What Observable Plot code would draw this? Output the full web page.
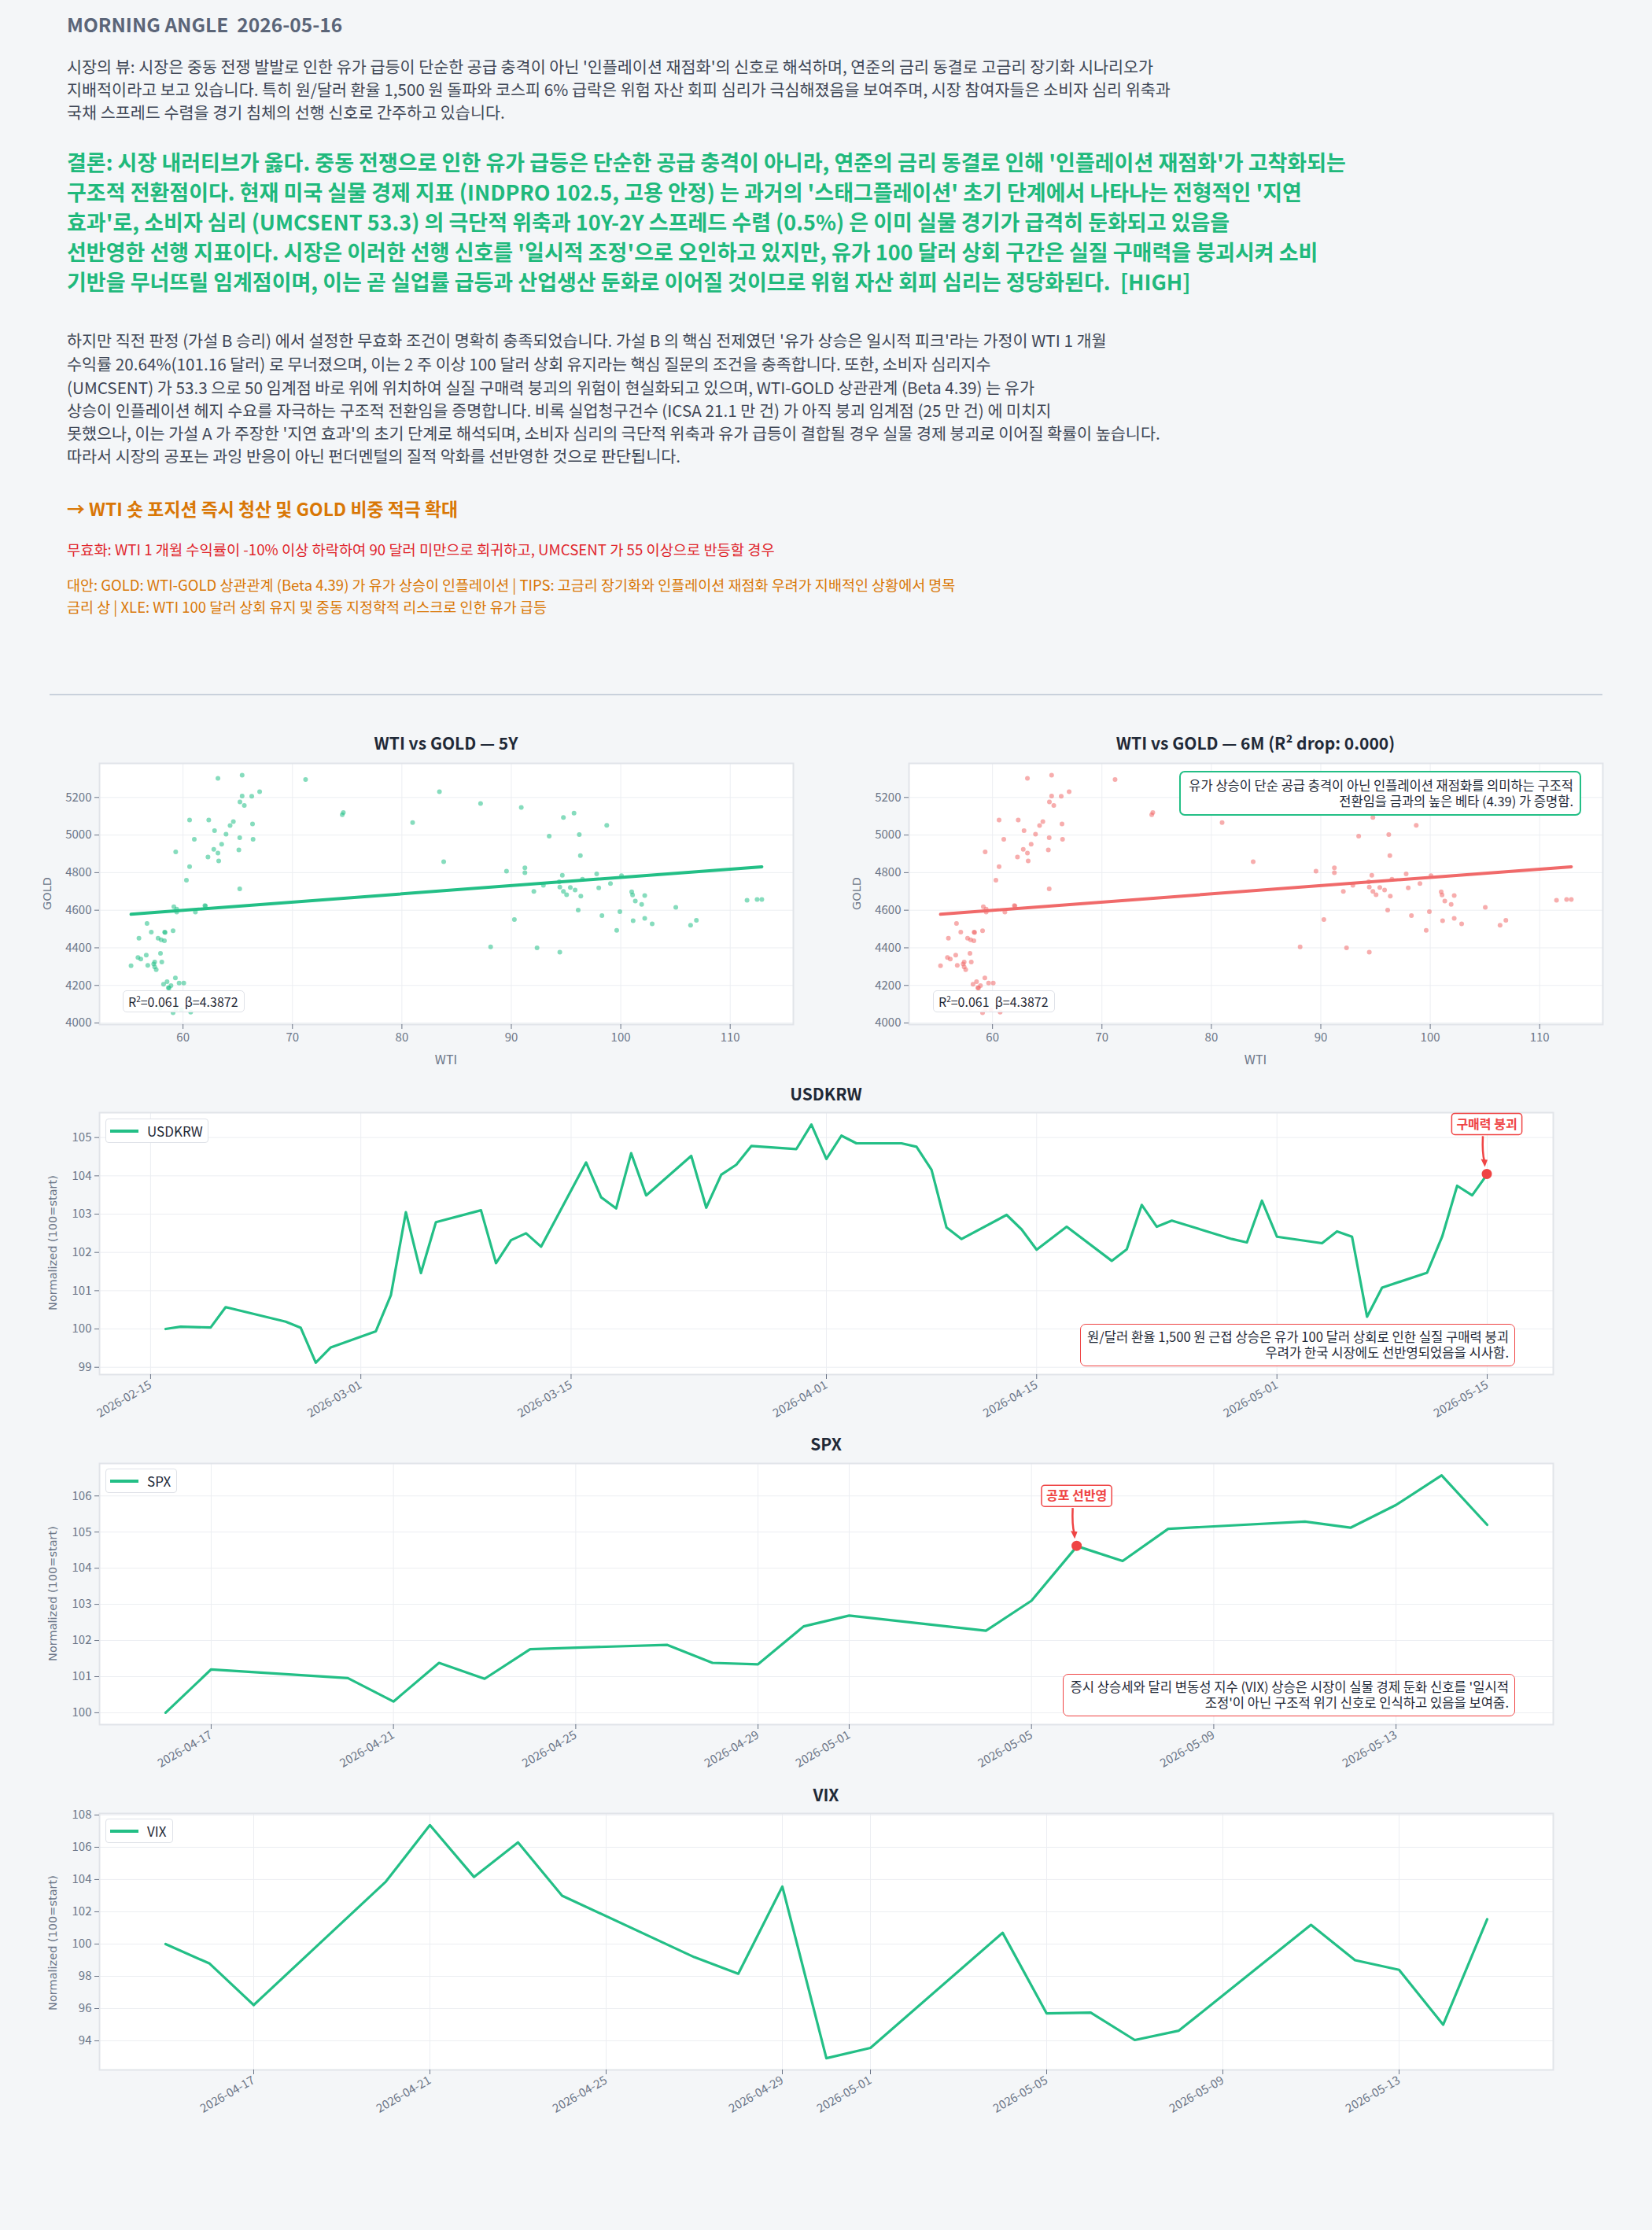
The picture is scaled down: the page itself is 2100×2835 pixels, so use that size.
<!DOCTYPE html>
<html><head><meta charset="utf-8">
<script src="https://cdn.jsdelivr.net/npm/d3@7"></script>
<script src="https://cdn.jsdelivr.net/npm/@observablehq/plot@0.6"></script>
<style>
html,body{margin:0;padding:0;background:#f4f6f8;}
#page{position:relative;width:2100px;height:2835px;overflow:hidden;font-family:"Noto Sans CJK KR","Noto Sans",sans-serif;}
.abs{position:absolute;white-space:pre;}
.plot{position:absolute;}
.plot svg{overflow:visible;}
.box{position:absolute;white-space:pre;background:#fff;border-radius:6px;color:#1f2937;}
</style></head>
<body><div id="page"></div>
<script>
// ================= DATA =================
const headerTitle = "MORNING ANGLE  2026-05-16";
const viewLines = [
  "시장의 뷰: 시장은 중동 전쟁 발발로 인한 유가 급등이 단순한 공급 충격이 아닌 '인플레이션 재점화'의 신호로 해석하며, 연준의 금리 동결로 고금리 장기화 시나리오가",
  "지배적이라고 보고 있습니다. 특히 원/달러 환율 1,500 원 돌파와 코스피 6% 급락은 위험 자산 회피 심리가 극심해졌음을 보여주며, 시장 참여자들은 소비자 심리 위축과",
  "국채 스프레드 수렴을 경기 침체의 선행 신호로 간주하고 있습니다."
];
const conclusionLines = [
  "결론: 시장 내러티브가 옳다. 중동 전쟁으로 인한 유가 급등은 단순한 공급 충격이 아니라, 연준의 금리 동결로 인해 '인플레이션 재점화'가 고착화되는",
  "구조적 전환점이다. 현재 미국 실물 경제 지표 (INDPRO 102.5, 고용 안정) 는 과거의 '스태그플레이션' 초기 단계에서 나타나는 전형적인 '지연",
  "효과'로, 소비자 심리 (UMCSENT 53.3) 의 극단적 위축과 10Y-2Y 스프레드 수렴 (0.5%) 은 이미 실물 경기가 급격히 둔화되고 있음을",
  "선반영한 선행 지표이다. 시장은 이러한 선행 신호를 '일시적 조정'으로 오인하고 있지만, 유가 100 달러 상회 구간은 실질 구매력을 붕괴시켜 소비",
  "기반을 무너뜨릴 임계점이며, 이는 곧 실업률 급등과 산업생산 둔화로 이어질 것이므로 위험 자산 회피 심리는 정당화된다.  [HIGH]"
];
const analysisLines = [
  "하지만 직전 판정 (가설 B 승리) 에서 설정한 무효화 조건이 명확히 충족되었습니다. 가설 B 의 핵심 전제였던 '유가 상승은 일시적 피크'라는 가정이 WTI 1 개월",
  "수익률 20.64%(101.16 달러) 로 무너졌으며, 이는 2 주 이상 100 달러 상회 유지라는 핵심 질문의 조건을 충족합니다. 또한, 소비자 심리지수",
  "(UMCSENT) 가 53.3 으로 50 임계점 바로 위에 위치하여 실질 구매력 붕괴의 위험이 현실화되고 있으며, WTI-GOLD 상관관계 (Beta 4.39) 는 유가",
  "상승이 인플레이션 헤지 수요를 자극하는 구조적 전환임을 증명합니다. 비록 실업청구건수 (ICSA 21.1 만 건) 가 아직 붕괴 임계점 (25 만 건) 에 미치지",
  "못했으나, 이는 가설 A 가 주장한 '지연 효과'의 초기 단계로 해석되며, 소비자 심리의 극단적 위축과 유가 급등이 결합될 경우 실물 경제 붕괴로 이어질 확률이 높습니다.",
  "따라서 시장의 공포는 과잉 반응이 아닌 펀더멘털의 질적 악화를 선반영한 것으로 판단됩니다."
];
const actionLine = "→ WTI 숏 포지션 즉시 청산 및 GOLD 비중 적극 확대";
const invalidationLine = "무효화: WTI 1 개월 수익률이 -10% 이상 하락하여 90 달러 미만으로 회귀하고, UMCSENT 가 55 이상으로 반등할 경우";
const alternativeLines = [
  "대안: GOLD: WTI-GOLD 상관관계 (Beta 4.39) 가 유가 상승이 인플레이션 | TIPS: 고금리 장기화와 인플레이션 재점화 우려가 지배적인 상황에서 명목",
  "금리 상 | XLE: WTI 100 달러 상회 유지 및 중동 지정학적 리스크로 인한 유가 급등"
];

// scatter: WTI vs GOLD
const wtiValues = [65.40,63.19,71.20,67.00,83.43,65.40,66.28,65.20,87.19,65.60,90.91,74.55,74.65,95.73,60.60,62.35,94.76,80.98,64.60,64.30,66.35,98.72,62.88,63.93,96.21,93.46,65.18,61.03,66.40,63.53,62.81,63.19,65.10,59.33,96.31,62.28,63.26,83.82,60.60,91.24,89.56,91.24,97.80,94.66,100.07,60.31,96.50,94.38,92.93,99.06,94.43,95.39,97.99,95.83,65.18,92.06,94.76,101.00,95.05,101.08,102.19,96.35,101.33,111.54,112.46,112.89,101.91,62.00,62.05,59.16,59.42,105.03,96.11,59.42,61.13,99.92,98.28,90.28,102.19,101.13,106.91,102.87,106.38,56.71,99.63,59.09,57.10,58.32,58.36,55.97,57.72,58.00,58.30,88.11,92.35,94.43,57.94,56.64,55.88,56.14,57.41,58.06,57.32,55.25,56.78,57.41,57.55,59.30,58.54,58.22,59.64,60.07,58.90,58.66,58.72,59.09,60.70,57.90,59.35,59.85];
const goldValues = [5318,5302,5295,5231,5231,5207,5206,5176,5168,5157,5147,5108,5120,5116,5080,5080,5093,5066,5072,5051,5059,5052,5023,5005,5002,4994,4986,4977,4977,4951,4924,4904,4921,4910,4890,4883,4862,4858,4832,4826,4808,4800,4793,4786,4784,4760,4765,4751,4733,4742,4723,4721,4719,4707,4714,4700,4700,4698,4682,4681,4678,4675,4649,4653,4657,4657,4631,4625,4622,4618,4606,4615,4601,4590,4590,4592,4571,4550,4557,4544,4546,4527,4520,4530,4493,4491,4484,4484,4481,4451,4451,4443,4437,4405,4400,4377,4371,4361,4349,4340,4325,4325,4314,4305,4307,4298,4284,4240,4220,4206,4213,4213,4199,4188,4186,4055,4058,4080,4075,4070];
const fitBeta = 4.3872;
const fitIntercept = 4336;
const fitR2 = 0.061;
const fitR2Drop = 0.000;
const scatterXTicks = [60,70,80,90,100,110];
const scatterYTicks = [4000,4200,4400,4600,4800,5000,5200];

// USDKRW normalized
const usdkrwDates = ["2026-02-16","2026-02-17","2026-02-19","2026-02-20","2026-02-24","2026-02-25","2026-02-26","2026-02-27","2026-03-02","2026-03-03","2026-03-04","2026-03-05","2026-03-06","2026-03-09","2026-03-10","2026-03-11","2026-03-12","2026-03-13","2026-03-16","2026-03-17","2026-03-18","2026-03-19","2026-03-20","2026-03-23","2026-03-24","2026-03-25","2026-03-26","2026-03-27","2026-03-30","2026-03-31","2026-04-01","2026-04-02","2026-04-03","2026-04-06","2026-04-07","2026-04-08","2026-04-09","2026-04-10","2026-04-13","2026-04-14","2026-04-15","2026-04-17","2026-04-20","2026-04-21","2026-04-22","2026-04-23","2026-04-24","2026-04-28","2026-04-29","2026-04-30","2026-05-01","2026-05-04","2026-05-05","2026-05-06","2026-05-07","2026-05-08","2026-05-11","2026-05-12","2026-05-13","2026-05-14","2026-05-15"];
const usdkrwValues = [100.00,100.06,100.04,100.57,100.19,100.03,99.12,99.52,99.94,100.88,103.05,101.46,102.79,103.10,101.72,102.32,102.50,102.15,104.35,103.44,103.15,104.59,103.49,104.52,103.17,104.03,104.29,104.78,104.70,105.34,104.44,105.05,104.85,104.85,104.76,104.16,102.65,102.35,102.98,102.60,102.07,102.67,101.78,102.08,103.24,102.67,102.83,102.35,102.26,103.35,102.41,102.24,102.55,102.41,100.32,101.08,101.47,102.41,103.74,103.49,104.04];
const usdkrwXTicks = ["2026-02-15","2026-03-01","2026-03-15","2026-04-01","2026-04-15","2026-05-01","2026-05-15"];
const usdkrwYTicks = [99,100,101,102,103,104,105];
const usdkrwMarkDate = "2026-05-15";
const usdkrwMarkLabel = "구매력 붕괴";
const usdkrwNote = ["원/달러 환율 1,500 원 근접 상승은 유가 100 달러 상회로 인한 실질 구매력 붕괴", "우려가 한국 시장에도 선반영되었음을 시사함."];

// SPX normalized
const spxDates = ["2026-04-16","2026-04-17","2026-04-20","2026-04-21","2026-04-22","2026-04-23","2026-04-24","2026-04-27","2026-04-28","2026-04-29","2026-04-30","2026-05-01","2026-05-04","2026-05-05","2026-05-06","2026-05-07","2026-05-08","2026-05-11","2026-05-12","2026-05-13","2026-05-14","2026-05-15"];
const spxValues = [100.00,101.20,100.96,100.31,101.38,100.94,101.76,101.88,101.38,101.34,102.39,102.69,102.27,103.10,104.61,104.20,105.09,105.29,105.12,105.75,106.57,105.20];
const spxXTicks = ["2026-04-17","2026-04-21","2026-04-25","2026-04-29","2026-05-01","2026-05-05","2026-05-09","2026-05-13"];
const spxYTicks = [100,101,102,103,104,105,106];
const spxMarkDate = "2026-05-06";
const spxMarkLabel = "공포 선반영";
const spxNote = ["증시 상승세와 달리 변동성 지수 (VIX) 상승은 시장이 실물 경제 둔화 신호를 '일시적", "조정'이 아닌 구조적 위기 신호로 인식하고 있음을 보여줌."];

// VIX normalized
const vixDates = ["2026-04-15","2026-04-16","2026-04-17","2026-04-20","2026-04-21","2026-04-22","2026-04-23","2026-04-24","2026-04-27","2026-04-28","2026-04-29","2026-04-30","2026-05-01","2026-05-04","2026-05-05","2026-05-06","2026-05-07","2026-05-08","2026-05-11","2026-05-12","2026-05-13","2026-05-14","2026-05-15"];
const vixValues = [100.00,98.79,96.22,103.87,107.37,104.16,106.30,103.00,99.19,98.16,103.56,92.92,93.56,100.70,95.70,95.75,94.05,94.63,101.19,99.00,98.40,95.00,101.54];
const vixXTicks = ["2026-04-17","2026-04-21","2026-04-25","2026-04-29","2026-05-01","2026-05-05","2026-05-09","2026-05-13"];
const vixYTicks = [94,96,98,100,102,104,106,108];

const scatterNote = ["유가 상승이 단순 공급 충격이 아닌 인플레이션 재점화를 의미하는 구조적", "전환임을 금과의 높은 베타 (4.39) 가 증명함."];

// ================= STYLE =================
const FONT = '"Noto Sans CJK KR","Noto Sans",sans-serif';
const GREEN = "#23bf86";
const TEXTGREEN = "#1fb97c";
const RED = "#ef4444";
const ORANGE = "#d97706";
const SLATE = "#6b7587";
const DARK = "#1f2937";
const GRID = "#eceef2";
const FRAME = "#e1e4e9";

const page = document.getElementById("page");
const parse = d3.utcParse("%Y-%m-%d");
const fmt = d3.utcFormat("%Y-%m-%d");

function text(str, x, yc, fs, opts = {}) {
  const d = document.createElement("div");
  d.className = "abs";
  d.textContent = str;
  d.style.fontSize = fs + "px";
  d.style.lineHeight = fs + "px";
  d.style.top = (yc - 0.57 * fs) + "px";
  d.style.color = opts.color || DARK;
  d.style.fontWeight = opts.bold ? "700" : "400";
  if (opts.family) d.style.fontFamily = opts.family;
  d.style.left = x + "px";
  if (opts.center) d.style.transform = "translateX(-50%)";
  if (opts.rotate) { d.style.top = yc + "px"; d.style.transform = "translate(-50%,-50%) rotate(-90deg)"; d.style.lineHeight = "1"; }
  page.appendChild(d);
  return d;
}

// ----- header text -----
text(headerTitle, 85, 33, 24.5, {bold: true, color: "#5b6578"});
[86, 115, 144].forEach((y, i) => text(viewLines[i], 85, y, 20.7, {color: "#3f4756"}));
[207, 245, 283, 321, 359].forEach((y, i) => text(conclusionLines[i], 85, y, 27, {bold: true, color: TEXTGREEN}));
[434, 464, 494, 523, 552, 581].forEach((y, i) => text(analysisLines[i], 85, y, 20.7, {color: "#3f4756"}));
text(actionLine, 85, 648, 22.9, {bold: true, color: ORANGE});
text(invalidationLine, 85, 700, 18.7, {color: "#e0262d"});
[745, 773].forEach((y, i) => text(alternativeLines[i], 85, y, 18.5, {color: ORANGE}));
const hr = document.createElement("div");
hr.style.cssText = "position:absolute;left:63px;top:882px;width:1974px;height:2px;background:#c9d1dc;";
page.appendChild(hr);

// ----- helpers -----
function pad(ext, f = 0.05) { const m = (ext[1] - ext[0]) * f; return [ext[0] - m, ext[1] + m]; }
function padDates(dates) { const [a, b] = d3.extent(dates); const m = (b - a) * 0.05; return [new Date(+a - m), new Date(+b + m)]; }
function place(svg, left, top) {
  const w = document.createElement("div");
  w.className = "plot"; w.style.left = left + "px"; w.style.top = top + "px";
  w.appendChild(svg); page.appendChild(w);
}
function box(lines, opts) {
  const d = document.createElement("div");
  d.className = "box";
  d.style.border = `${opts.bw || 1.5}px solid ${opts.border}`;
  if (opts.right != null) d.style.right = opts.right + "px"; else d.style.left = opts.left + "px";
  d.style.top = opts.top + "px";
  d.style.fontSize = opts.fs + "px";
  d.style.lineHeight = opts.lh + "px";
  d.style.padding = opts.padding;
  d.style.textAlign = opts.align || "right";
  if (opts.radius != null) d.style.borderRadius = opts.radius + "px";
  if (opts.bg) d.style.background = opts.bg;
  lines.forEach((l, i) => { const s = document.createElement("div"); s.innerHTML = l; d.appendChild(s); });
  page.appendChild(d);
  return d;
}
function legend(label, left, top, width) {
  const d = document.createElement("div");
  d.style.cssText = `position:absolute;left:${left}px;top:${top}px;width:${width}px;height:29px;background:#fff;border:1.5px solid #dfe2e8;border-radius:4px;`;
  const sw = document.createElement("div");
  sw.style.cssText = `position:absolute;left:5px;top:12.5px;width:36px;height:4.5px;background:${GREEN};`;
  d.appendChild(sw);
  const t = document.createElement("div");
  t.textContent = label;
  t.style.cssText = `position:absolute;left:52px;top:${15.5 - 0.57 * 17}px;font-size:17px;line-height:17px;color:${DARK};white-space:nowrap;`;
  d.appendChild(t);
  page.appendChild(d);
}
const measureCtx = document.createElement("canvas").getContext("2d");
function measure(str, font) { measureCtx.font = font; return measureCtx.measureText(str).width; }

// ----- scatter charts -----
const points = wtiValues.map((w, i) => ({wti: w, gold: goldValues[i]}));
const wExt = d3.extent(wtiValues);
const fitLine = wExt.map(w => ({wti: w, gold: fitIntercept + fitBeta * w}));
const sxDomain = pad(wExt);
const syDomain = pad(d3.extent(goldValues));

function scatter(color, mLeft, mRight) {
  return Plot.plot({
    width: 1050, height: 420,
    marginLeft: mLeft, marginRight: mRight, marginTop: 10, marginBottom: 78,
    style: {background: "transparent", fontFamily: FONT, fontSize: "15px", color: SLATE, overflow: "visible"},
    x: {domain: sxDomain},
    y: {domain: syDomain},
    marks: [
      Plot.frame({fill: "#fff", stroke: null}),
      Plot.gridX({ticks: scatterXTicks, stroke: GRID, strokeOpacity: 1}),
      Plot.gridY({ticks: scatterYTicks, stroke: GRID, strokeOpacity: 1}),
      Plot.dot(points, {x: "wti", y: "gold", r: 3, fill: color, fillOpacity: 0.55, stroke: null}),
      Plot.line(fitLine, {x: "wti", y: "gold", stroke: color, strokeWidth: 4}),
      Plot.frame({stroke: FRAME, strokeWidth: 2}),
      Plot.axisX({ticks: scatterXTicks, tickSize: 6, tickPadding: 5, label: null, tickFormat: d => String(d)}),
      Plot.axisY({ticks: scatterYTicks, tickSize: 6, tickPadding: 4, label: null, tickFormat: d => String(d)})
    ]
  });
}
place(scatter(GREEN, 126, 42), 0, 960);
place(scatter("#f06a6a", 105, 63), 1050, 960);
text("WTI vs GOLD — 5Y", 567, 946, 21, {bold: true, center: true});
text(`WTI vs GOLD — 6M (R² drop: ${fitR2Drop.toFixed(3)})`, 1596, 946, 21, {bold: true, center: true});
text("WTI", 567, 1347, 16, {center: true, color: SLATE});
text("WTI", 1596, 1347, 16, {center: true, color: SLATE});
text("GOLD", 60, 1136, 14.5, {rotate: true, color: SLATE, family: '"DejaVu Sans",sans-serif'});
text("GOLD", 1089, 1136, 14.5, {rotate: true, color: SLATE, family: '"DejaVu Sans",sans-serif'});
const r2txt = `R<sup style="font-size:10px;line-height:0">2</sup>=${fitR2.toFixed(3)}&nbsp;&nbsp;β=${fitBeta.toFixed(4)}`;
box([r2txt], {left: 156, top: 1259, fs: 16, lh: 20, padding: "3px 7px 3px 6px", border: "#dfe2e8", align: "left", radius: 5, bg: "rgba(255,255,255,0.88)"});
box([r2txt], {left: 1186, top: 1259, fs: 16, lh: 20, padding: "3px 7px 3px 6px", border: "#dfe2e8", align: "left", radius: 5, bg: "rgba(255,255,255,0.88)"});
box(scatterNote, {right: 90, top: 980, fs: 16.5, lh: 20, padding: "6px 8px 7px 10px", border: GREEN, bw: 2, radius: 7});

// ----- line charts -----
function annotate(pt, label) {
  return (index, scales) => {
    const px = scales.x(pt.date), py = scales.y(pt.value);
    const g = d3.create("svg:g");
    g.append("path")
      .attr("d", `M${px - 5},${py - 48} Q${px - 6},${py - 26} ${px - 3},${py - 16}`)
      .attr("fill", "none").attr("stroke", RED).attr("stroke-width", 2.5);
    g.append("path")
      .attr("d", `M${px - 7.5},${py - 19} L${px + 1},${py - 18} L${px - 2.5},${py - 9} Z`)
      .attr("fill", RED);
    g.append("circle").attr("cx", px).attr("cy", py).attr("r", 6.5).attr("fill", RED);
    const fs = 16;
    const w = measure(label, `700 ${fs}px "Noto Sans CJK KR"`) + 12;
    g.append("rect").attr("x", px - w / 2).attr("y", py - 77).attr("width", w).attr("height", 27)
      .attr("rx", 4).attr("fill", "#fff").attr("stroke", RED).attr("stroke-width", 1.5);
    g.append("text").attr("x", px).attr("y", py - 63.5).attr("text-anchor", "middle")
      .attr("dy", "0.36em").attr("fill", RED).attr("font-weight", 700).attr("font-size", fs)
      .attr("font-family", FONT).text(label);
    return g.node();
  };
}
function lineChart({dates, values, xTicks, yTicks, top, height, mBottom, markDate, markLabel}) {
  const data = dates.map((d, i) => ({date: parse(d), value: values[i]}));
  const marks = [
    Plot.frame({fill: "#fff", stroke: null}),
    Plot.gridX({ticks: xTicks.map(parse), stroke: GRID, strokeOpacity: 1}),
    Plot.gridY({ticks: yTicks, stroke: GRID, strokeOpacity: 1}),
    Plot.line(data, {x: "date", y: "value", stroke: GREEN, strokeWidth: 3.2}),
    Plot.frame({stroke: FRAME, strokeWidth: 2}),
    Plot.axisX({ticks: xTicks.map(parse), tickFormat: fmt, tickRotate: -30, tickSize: 6, tickPadding: 6, label: null}),
    Plot.axisY({ticks: yTicks, tickSize: 6, tickPadding: 4, label: null, tickFormat: d => String(d)})
  ];
  if (markDate) {
    const pt = data.find(d => fmt(d.date) === markDate);
    marks.push(annotate(pt, markLabel));
  }
  const svg = Plot.plot({
    width: 2100, height,
    marginLeft: 126, marginRight: 126, marginTop: 10, marginBottom: mBottom,
    style: {background: "transparent", fontFamily: FONT, fontSize: "15px", color: SLATE, overflow: "visible"},
    x: {type: "utc", domain: padDates(data.map(d => d.date))},
    y: {domain: pad(d3.extent(values))},
    marks
  });
  place(svg, 0, top);
}

lineChart({dates: usdkrwDates, values: usdkrwValues, xTicks: usdkrwXTicks, yTicks: usdkrwYTicks, top: 1404, height: 426, mBottom: 83, markDate: usdkrwMarkDate, markLabel: usdkrwMarkLabel});
lineChart({dates: spxDates, values: spxValues, xTicks: spxXTicks, yTicks: spxYTicks, top: 1850, height: 420, mBottom: 78, markDate: spxMarkDate, markLabel: spxMarkLabel});
lineChart({dates: vixDates, values: vixValues, xTicks: vixXTicks, yTicks: vixYTicks, top: 2295, height: 430, mBottom: 94});

text("USDKRW", 1050, 1392, 21, {bold: true, center: true});
text("SPX", 1050, 1837, 21, {bold: true, center: true});
text("VIX", 1050, 2283, 21, {bold: true, center: true});
const yl = "Normalized (100=start)";
[1580, 2026, 2470].forEach(y => text(yl, 67, y, 14.5, {rotate: true, color: SLATE, family: '"DejaVu Sans",sans-serif'}));
legend("USDKRW", 134, 1422, 129);
legend("SPX", 134, 1867, 89);
legend("VIX", 134, 2312, 84);
box(usdkrwNote, {right: 174, top: 1683, fs: 16.6, lh: 19.5, padding: "6px 7px 7px 8px", border: RED, radius: 7});
box(spxNote, {right: 174, top: 2128, fs: 16.6, lh: 19.5, padding: "6px 7px 7px 8px", border: RED, radius: 7});
</script>
</body></html>
